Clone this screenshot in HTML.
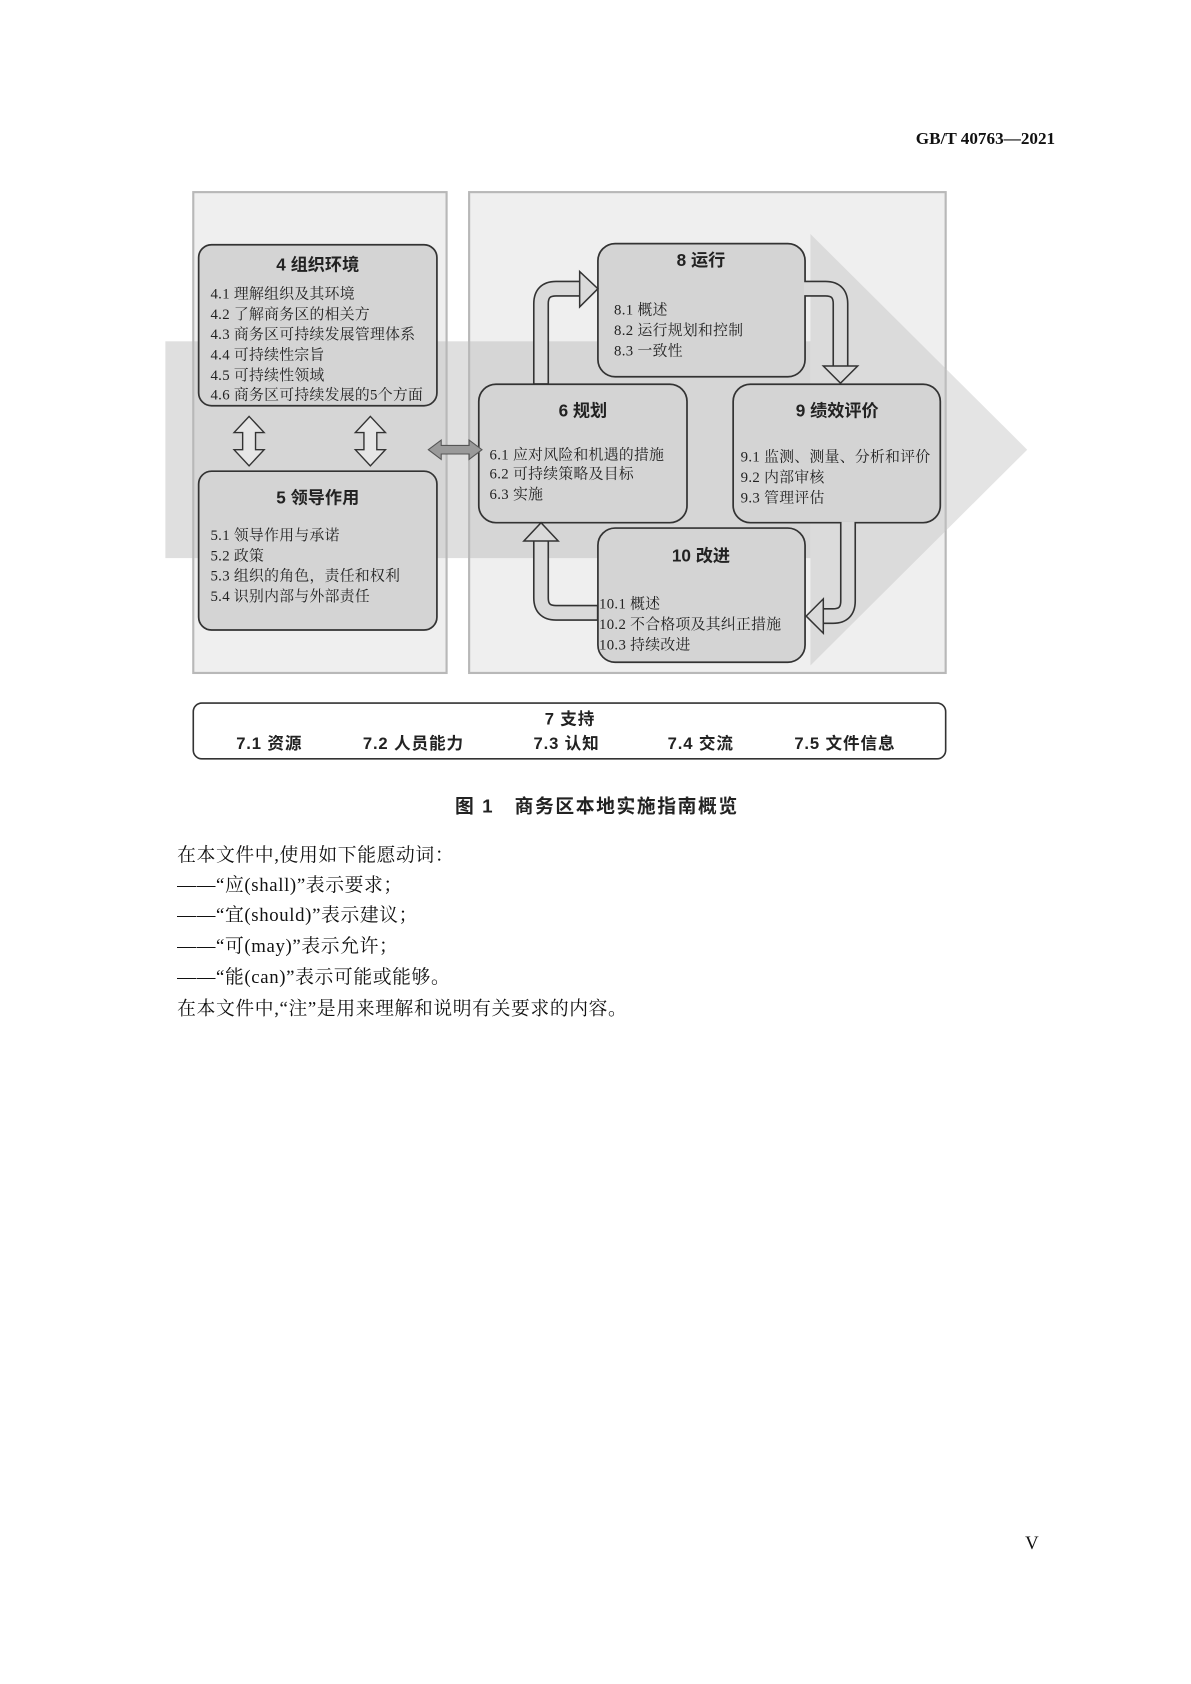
<!DOCTYPE html>
<html><head><meta charset="utf-8"><style>
html,body{margin:0;padding:0;background:#fff;}
svg{display:block;}
.t{font-family:"Liberation Sans","Noto Sans CJK SC",sans-serif;font-weight:bold;fill:#222;}
.i{font-family:"Liberation Serif","Noto Serif CJK SC",serif;fill:#222;font-size:13.8px;letter-spacing:0.3px;}
.b{font-family:"Liberation Serif","Noto Serif CJK SC",serif;fill:#111;font-size:17.5px;letter-spacing:0.6px;}
</style></head><body>
<svg width="1191" height="1684" viewBox="0 0 1109.5 1569" xmlns="http://www.w3.org/2000/svg">
<text x="983" y="134" text-anchor="end" style="font-family:'Liberation Serif','Noto Serif CJK SC',serif;font-weight:bold;font-size:16px;fill:#111">GB/T 40763—2021</text>
<rect x="180" y="179" width="236" height="448" fill="#efefef" stroke="#b8b8b8" stroke-width="2"/>
<rect x="437" y="179" width="444" height="448" fill="#efefef" stroke="#b8b8b8" stroke-width="2"/>
<rect x="154" y="318" width="601" height="202" fill="#b8b8b8" opacity="0.45"/>
<polygon points="755,218 957,419 755,620" fill="#c4c4c4" opacity="0.45"/>
<g fill="#d4d4d4" stroke="#333" stroke-width="1.6">
<rect x="185" y="228" width="222" height="150" rx="12"/>
<rect x="185" y="439" width="222" height="148" rx="12"/>
<rect x="557" y="227" width="193" height="124" rx="16"/>
<rect x="446" y="358" width="194" height="129" rx="16"/>
<rect x="683" y="358" width="193" height="129" rx="16"/>
<rect x="557" y="492" width="193" height="125" rx="16"/>
</g>
<g fill="none" stroke-linecap="butt">
<g stroke="#333" stroke-width="15">
<path d="M504,358 V283 Q504,269 518,269 H541"/>
<path d="M750,269 H769 Q783,269 783,283 V341"/>
<path d="M790,487 V560 Q790,574 776,574 H766"/>
<path d="M557,571 H518 Q504,571 504,557 V503"/>
</g>
<g stroke="#dadada" stroke-width="12">
<path d="M504,357 V283 Q504,269 518,269 H542"/>
<path d="M749,269 H769 Q783,269 783,283 V342"/>
<path d="M790,486 V560 Q790,574 776,574 H765"/>
<path d="M556,571 H518 Q504,571 504,557 V502"/>
</g>
</g>
<g fill="#dadada" stroke="#333" stroke-width="1.4">
<polygon points="540,253 557,269 540,286"/>
<polygon points="767,341 799,341 783,357"/>
<polygon points="767,558 767,590 751,574"/>
<polygon points="488,504 520,504 504,487"/>
</g>
<g fill="#e6e6e6" stroke="#333" stroke-width="1.3">
<polygon points="232,388 246,403 238,403 238,419 246,419 232,434 218,419 226,419 226,403 218,403"/>
<polygon points="345,388 359,403 351,403 351,419 359,419 345,434 331,419 339,419 339,403 331,403"/>
</g>
<polygon points="399,419 411,410 411,415 437,415 437,410 449,419 437,428 437,423 411,423 411,428" fill="#9a9a9a" stroke="#555" stroke-width="1"/>
<g class="t" font-size="16" text-anchor="middle">
<text x="296" y="252">4 组织环境</text>
<text x="296" y="469">5 领导作用</text>
<text x="653" y="248">8 运行</text>
<text x="543" y="388">6 规划</text>
<text x="780" y="388">9 绩效评价</text>
<text x="653" y="523">10 改进</text>
</g>
<g class="i">
<text x="196" y="278">4.1 理解组织及其环境</text>
<text x="196" y="297">4.2 了解商务区的相关方</text>
<text x="196" y="316">4.3 商务区可持续发展管理体系</text>
<text x="196" y="335">4.4 可持续性宗旨</text>
<text x="196" y="354">4.5 可持续性领域</text>
<text x="196" y="372">4.6 商务区可持续发展的5个方面</text>
<text x="196" y="503">5.1 领导作用与承诺</text>
<text x="196" y="522">5.2 政策</text>
<text x="196" y="541">5.3 组织的角色，责任和权利</text>
<text x="196" y="560">5.4 识别内部与外部责任</text>
<text x="572" y="293">8.1 概述</text>
<text x="572" y="312">8.2 运行规划和控制</text>
<text x="572" y="331">8.3 一致性</text>
<text x="456" y="428">6.1 应对风险和机遇的措施</text>
<text x="456" y="446">6.2 可持续策略及目标</text>
<text x="456" y="465">6.3 实施</text>
<text x="690" y="430">9.1 监测、测量、分析和评价</text>
<text x="690" y="449">9.2 内部审核</text>
<text x="690" y="468">9.3 管理评估</text>
<text x="558" y="567">10.1 概述</text>
<text x="558" y="586">10.2 不合格项及其纠正措施</text>
<text x="558" y="605">10.3 持续改进</text>
</g>
<rect x="180" y="655" width="701" height="52" rx="8" fill="#fff" stroke="#333" stroke-width="1.5"/>
<g class="t" font-size="15.5" style="letter-spacing:0.8px">
<text x="531" y="675" text-anchor="middle">7 支持</text>
<text x="220" y="698">7.1 资源</text>
<text x="338" y="698">7.2 人员能力</text>
<text x="497" y="698">7.3 认知</text>
<text x="622" y="698">7.4 交流</text>
<text x="740" y="698">7.5 文件信息</text>
</g>
<text x="556" y="757" text-anchor="middle" class="t" font-size="17.5" style="letter-spacing:1.5px">图 1　商务区本地实施指南概览</text>
<g class="b">
<text x="165" y="802">在本文件中,使用如下能愿动词：</text>
<text x="165" y="830">——“应(shall)”表示要求；</text>
<text x="165" y="858">——“宜(should)”表示建议；</text>
<text x="165" y="887">——“可(may)”表示允许；</text>
<text x="165" y="916">——“能(can)”表示可能或能够。</text>
<text x="165" y="945">在本文件中,“注”是用来理解和说明有关要求的内容。</text>
</g>
<text x="955" y="1443" class="b" font-size="14">V</text>
</svg>
</body></html>
